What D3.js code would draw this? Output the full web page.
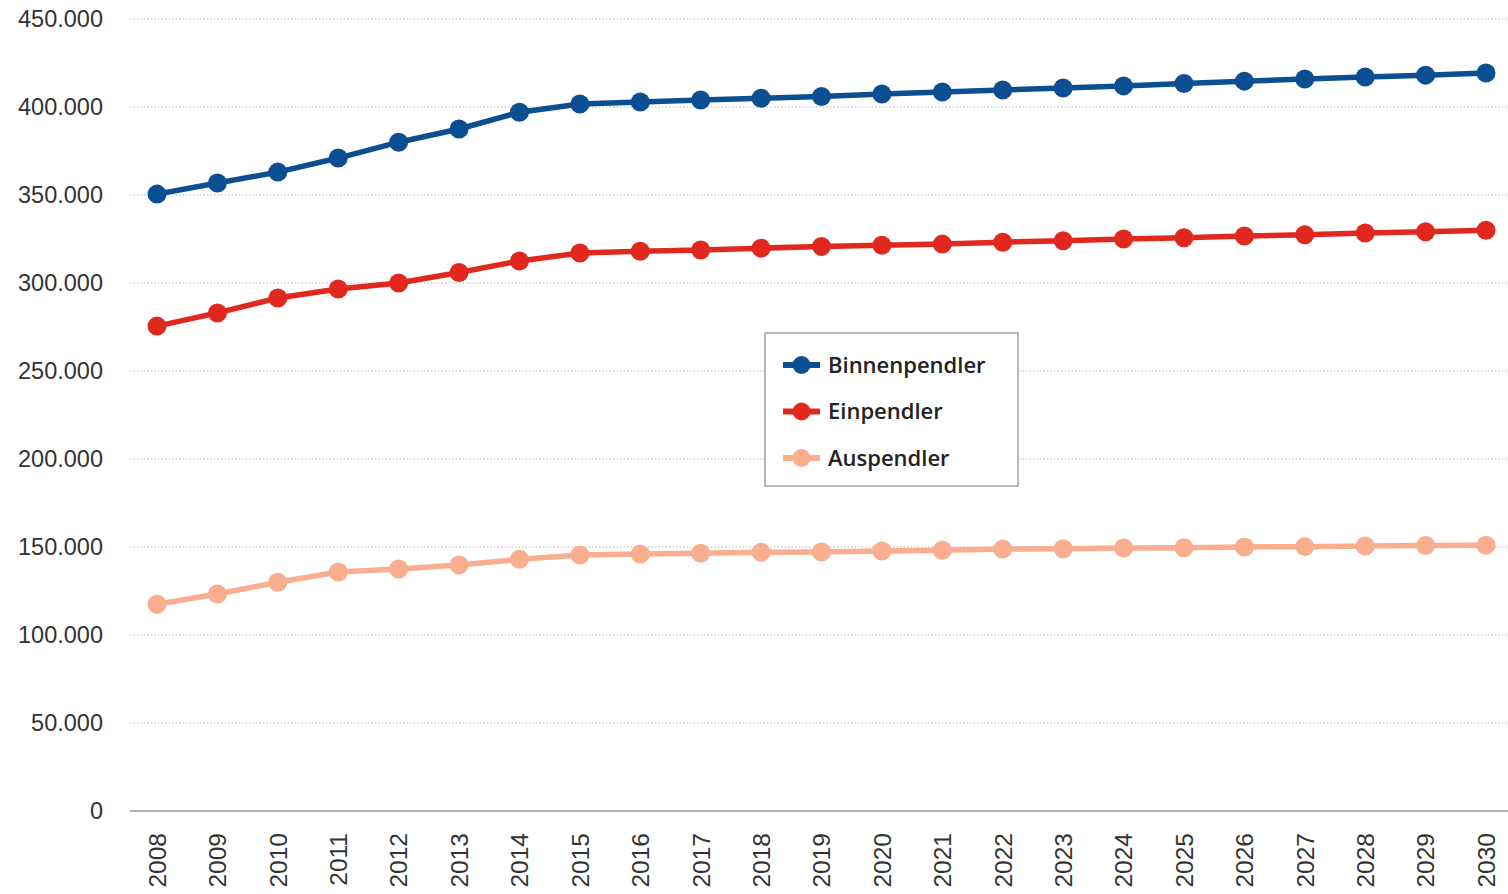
<!DOCTYPE html>
<html>
<head>
<meta charset="utf-8">
<script src="https://cdn.jsdelivr.net/npm/d3@7"></script>
<style>
  body { margin: 0; background: #fff; }
  svg { display: block; }
</style>
</head>
<body>
<div id="chart"></div>
<script>
var years = d3.range(2008, 2031).map(String);
var binnenpendler = [350500, 356800, 363000, 371000, 380000, 387500, 397000, 401700, 402800, 404000, 405000, 406000, 407400, 408500, 409700, 410800, 412000, 413400, 414700, 415900, 417000, 418100, 419300];
var einpendler = [275500, 283000, 291500, 296600, 300000, 306000, 312500, 317000, 318000, 318800, 319800, 320800, 321500, 322100, 323200, 324000, 325000, 325700, 326700, 327400, 328400, 329100, 330000];
var auspendler = [117500, 123300, 130000, 135800, 137500, 139800, 143000, 145400, 146000, 146500, 147000, 147200, 147700, 148200, 148800, 149000, 149400, 149600, 150000, 150200, 150600, 150800, 151000];
var yTicks = [0, 50000, 100000, 150000, 200000, 250000, 300000, 350000, 400000, 450000];

var series = [
  { name: 'Binnenpendler', values: binnenpendler, color: '#0b4f92' },
  { name: 'Einpendler', values: einpendler, color: '#e0281f' },
  { name: 'Auspendler', values: auspendler, color: '#f8ae8f' }
];

var width = 1508, height = 894;
var svg = d3.select('#chart').append('svg')
  .attr('width', width)
  .attr('height', height);

var x = d3.scalePoint().domain(years).range([157, 1486]);
var y = d3.scaleLinear().domain([0, 450000]).range([811, 19]);

var fmt = function(v) { return v === 0 ? '0' : d3.format(',')(v).replace(/,/g, '.'); };

// grid
svg.append('g').selectAll('line')
  .data(yTicks.filter(function(d) { return d > 0; }))
  .enter().append('line')
  .attr('x1', 130).attr('x2', width)
  .attr('y1', function(d) { return y(d); })
  .attr('y2', function(d) { return y(d); })
  .attr('stroke', '#b5b5b5')
  .attr('stroke-width', 1)
  .attr('stroke-dasharray', '1.5,2');

svg.append('line')
  .attr('x1', 130).attr('x2', width)
  .attr('y1', y(0)).attr('y2', y(0))
  .attr('stroke', '#9a9a9a')
  .attr('stroke-width', 1.5);

// y labels
svg.append('g').selectAll('text')
  .data(yTicks)
  .enter().append('text')
  .attr('x', 103)
  .attr('y', function(d) { return y(d); })
  .attr('dy', '0.35em')
  .attr('text-anchor', 'end')
  .attr('font-family', 'Liberation Sans, Arial, sans-serif')
  .attr('font-size', 23.5)
  .attr('fill', '#333')
  .text(fmt);

// x labels
svg.append('g').selectAll('text')
  .data(years)
  .enter().append('text')
  .attr('transform', function(d) { return 'translate(' + x(d) + ',833) rotate(-90)'; })
  .attr('dy', '0.36em')
  .attr('text-anchor', 'end')
  .attr('font-family', 'Liberation Sans, Arial, sans-serif')
  .attr('font-size', 24.5)
  .attr('fill', '#333')
  .text(function(d) { return d; });

var line = d3.line()
  .x(function(d, i) { return x(years[i]); })
  .y(function(d) { return y(d); });

series.forEach(function(s) {
  var g = svg.append('g');
  g.append('path')
    .attr('d', line(s.values))
    .attr('fill', 'none')
    .attr('stroke', s.color)
    .attr('stroke-width', 5.5);
  g.selectAll('circle')
    .data(s.values)
    .enter().append('circle')
    .attr('cx', function(d, i) { return x(years[i]); })
    .attr('cy', function(d) { return y(d); })
    .attr('r', 9.5)
    .attr('fill', s.color);
});

// legend
var legend = svg.append('g').attr('transform', 'translate(765,333)');
legend.append('rect')
  .attr('width', 253).attr('height', 153)
  .attr('fill', '#fff')
  .attr('stroke', '#8a8a8a')
  .attr('stroke-width', 1.2);

var items = legend.selectAll('g.item')
  .data(series)
  .enter().append('g')
  .attr('transform', function(d, i) { return 'translate(0,' + (32 + i * 46.5) + ')'; });
items.append('line')
  .attr('x1', 18).attr('x2', 55)
  .attr('stroke', function(d) { return d.color; })
  .attr('stroke-width', 6);
items.append('circle')
  .attr('cx', 36.5).attr('r', 9)
  .attr('fill', function(d) { return d.color; });
items.append('text')
  .attr('x', 63)
  .attr('dy', '0.35em')
  .attr('font-family', 'Open Sans, sans-serif')
  .attr('font-size', 22)
  .attr('font-weight', 600)
  .attr('fill', '#222')
  .text(function(d) { return d.name; });
</script>
</body>
</html>
